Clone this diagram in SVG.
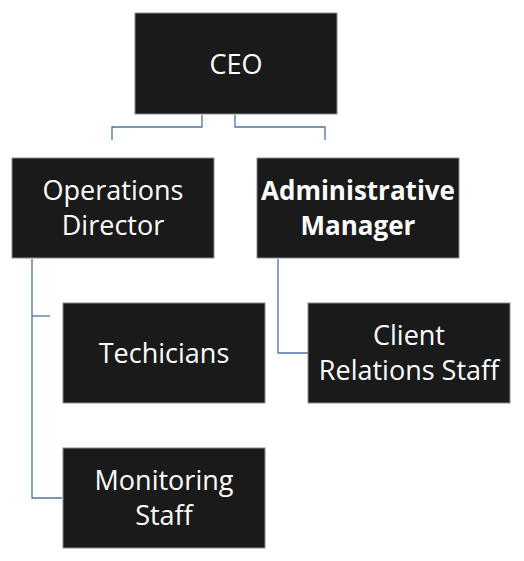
<svg xmlns="http://www.w3.org/2000/svg" width="524" height="561" viewBox="0 0 524 561">
<style>
.box{fill:#1a1a1a;stroke:#8a8a8a;stroke-width:1}
.t{fill:#ffffff;font-family:"Open Sans","Liberation Sans",sans-serif;font-size:27px;text-anchor:middle}
.b{font-weight:bold;font-size:26px}
.c{fill:none;stroke:#4f72a8;stroke-width:1.3}
</style>
<rect width="524" height="561" fill="#ffffff"/>
<g id="connectors">
<path class="c" d="M202,115 V127 H112 V140"/>
<path class="c" d="M235,115 V127 H325 V140"/>
<path class="c" d="M32,259 V498 H62"/>
<path class="c" d="M32,316 H50"/>
<path class="c" d="M278,259 V353 H308"/>
</g>
<g id="ceo"><rect class="box" x="135" y="13" width="202" height="101"/><text class="t" x="236" y="74">CEO</text></g>
<g id="ops"><rect class="box" x="12" y="158" width="202" height="100"/><text class="t" x="113" y="200">Operations</text><text class="t" x="113" y="235">Director</text></g>
<g id="admin"><rect class="box" x="257" y="158" width="202" height="100"/><text class="t b" x="358" y="200">Administrative</text><text class="t b" x="358" y="235">Manager</text></g>
<g id="tech"><rect class="box" x="63" y="303" width="202" height="100"/><text class="t" x="164" y="363">Techicians</text></g>
<g id="client"><rect class="box" x="308" y="303" width="202" height="100"/><text class="t" x="409" y="345">Client</text><text class="t" x="409" y="380">Relations Staff</text></g>
<g id="mon"><rect class="box" x="63" y="448" width="202" height="100"/><text class="t" x="164" y="490">Monitoring</text><text class="t" x="164" y="525">Staff</text></g>
</svg>
